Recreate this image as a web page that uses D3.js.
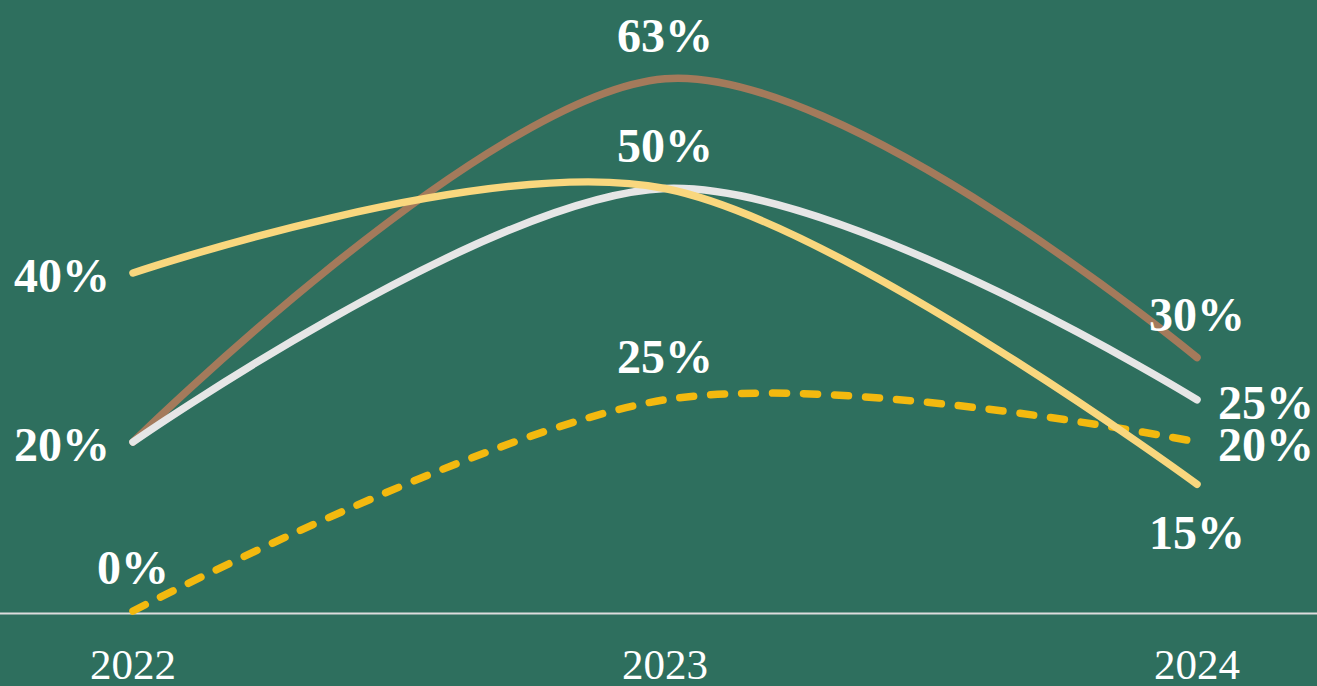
<!DOCTYPE html>
<html>
<head>
<meta charset="utf-8">
<script src="https://cdn.jsdelivr.net/npm/d3@7"></script>
<style>
  html, body { margin: 0; padding: 0; background: #2e6f5e; overflow: hidden; }
  svg { display: block; }
</style>
</head>
<body>
<svg></svg>
<script>
var width = 1317,
    height = 686

// data
var years = ["2022", "2023", "2024"]
var brownValues  = [20, 63, 30]
var whiteValues  = [20, 50, 25]
var yellowValues = [40, 50, 15]
var goldValues   = [0, 25, 20]

// where each value label sits (null = no label)
var brownLabels  = [null, "top", "top"]
var whiteLabels  = ["left", "top", "right"]
var yellowLabels = ["left", null, "bottom"]
var goldLabels   = ["top", "top", "right"]

var series = [
  {values: goldValues,   labels: goldLabels,   color: "#f3b90f", dash: "14,17"},
  {values: brownValues,  labels: brownLabels,  color: "#a47a5b", dash: null},
  {values: whiteValues,  labels: whiteLabels,  color: "#e6e6e6", dash: null},
  {values: yellowValues, labels: yellowLabels, color: "#f9d77e", dash: null}
]

var svg = d3.select("svg").attr("width", width).attr("height", height)

var x = d3.scalePoint().domain(years).range([133, 1197])
var y = d3.scaleLinear().domain([0, 63]).range([611, 611 - 63 * 8.45])

// baseline
svg.append("line")
  .attr("x1", 0).attr("x2", width)
  .attr("y1", 613.5).attr("y2", 613.5)
  .attr("stroke", "#dddddd")
  .attr("stroke-width", 2)

var line = d3.line()
  .x(function(d, i) { return x(years[i]) })
  .y(function(d) { return y(d) })
  .curve(d3.curveCardinal.tension(0))

svg.selectAll("path.series")
  .data(series)
  .enter().append("path")
  .attr("class", "series")
  .attr("d", function(d) { return line(d.values) })
  .attr("fill", "none")
  .attr("stroke", function(d) { return d.color })
  .attr("stroke-width", 7.5)
  .attr("stroke-linecap", "round")
  .attr("stroke-dasharray", function(d) { return d.dash })

// value labels
var labelData = []
series.forEach(function(s) {
  s.values.forEach(function(v, i) {
    if (s.labels[i]) labelData.push({year: years[i], value: v, pos: s.labels[i]})
  })
})

svg.selectAll("text.val")
  .data(labelData)
  .enter().append("text")
  .attr("class", "val")
  .attr("x", function(d) {
    var px = x(d.year)
    if (d.pos == "left") return px - 23
    if (d.pos == "right") return px + 21
    return px
  })
  .attr("y", function(d) {
    var py = y(d.value)
    if (d.pos == "top") return py - 27
    if (d.pos == "bottom") return py + 65
    return py + 19
  })
  .attr("text-anchor", function(d) {
    if (d.pos == "left") return "end"
    if (d.pos == "right") return "start"
    return "middle"
  })
  .attr("font-family", "'Liberation Serif', 'Times New Roman', serif")
  .attr("font-weight", "bold")
  .attr("font-size", 48)
  .attr("fill", "#ffffff")
  .text(function(d) { return d.value + "%" })

// year labels
svg.selectAll("text.year")
  .data(years)
  .enter().append("text")
  .attr("class", "year")
  .attr("x", function(d) { return x(d) })
  .attr("y", 679)
  .attr("text-anchor", "middle")
  .attr("font-family", "'Liberation Serif', 'Times New Roman', serif")
  .attr("font-size", 43)
  .attr("fill", "#ffffff")
  .text(function(d) { return d })
</script>
</body>
</html>
